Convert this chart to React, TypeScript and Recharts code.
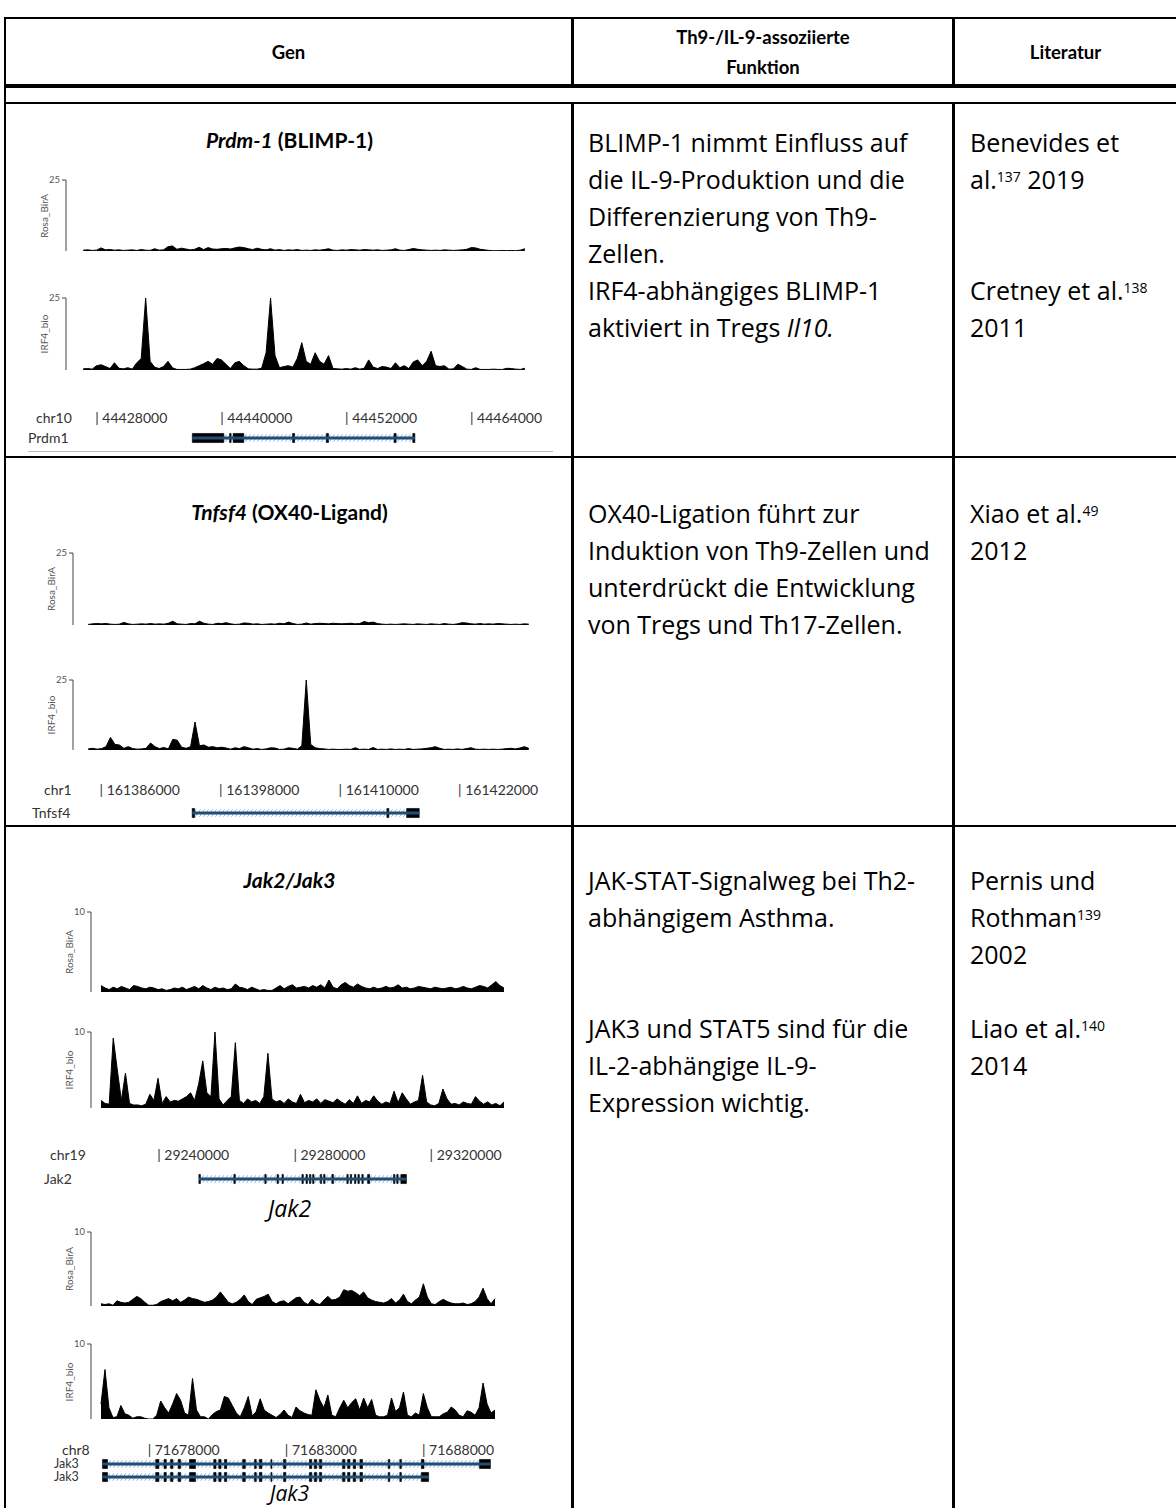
import React from "react";
import {
  AreaChart,
  Area,
  XAxis,
  YAxis,
  ComposedChart,
  Line,
  ReferenceArea,
  ReferenceLine,
} from "recharts";

// ---- data: binned coverage (bins spread evenly over each locus window) ----
const prdm1Rosa = [
  0.3, 0.4, 0.2, 0.3, 1.1, 0.4, 0.5, 0.3, 0.4, 0.2,
  0.3, 0.4, 0.2, 0.5, 0.3, 0.2, 0.8, 0.3, 0.4, 1.5,
  1.8, 0.6, 1, 0.7, 0.4, 0.6, 1.3, 0.5, 1.2, 0.7,
  0.6, 0.8, 0.9, 0.7, 1.1, 1.4, 1.2, 0.8, 0.5, 1,
  0.6, 0.4, 0.8, 0.3, 0.5, 0.2, 0.4, 0.3, 0.5, 0.2,
  0.3, 0.2, 0.4, 0.3, 0.5, 0.8, 0.3, 0.2, 0.4, 0.3,
  0.5, 0.4, 0.3, 0.5, 0.4, 0.3, 0.4, 0.2, 0.3, 0.4,
  0.8, 0.3, 0.2, 0.5, 0.9, 0.6, 0.4, 0.3, 0.2, 0.3,
  0.2, 0.4, 0.3, 0.2, 0.3, 0.4, 0.6, 1.2, 1.1, 0.6,
  0.4, 0.2, 0.1, 0.1, 0.2, 0.1, 0.2, 0.1, 0.3, 0.8,
];
const prdm1Irf4 = [
  0.4, 0.5, 0.3, 1.5, 1.8, 1.2, 0.5, 2.5, 0.6, 0.4,
  0.8, 0.3, 2.5, 4, 25, 3, 1, 0.5, 1.2, 3,
  0.8, 0.2, 0.2, 0.2, 0.3, 0.8, 1.5, 2.2, 3, 2,
  4, 3.5, 2, 0.5, 2.5, 3, 1.5, 0.4, 0.3, 0.3,
  0.6, 6, 25, 5, 0.8, 1.2, 1.5, 1, 4, 9.5,
  3, 2, 6, 3, 2, 5, 0.5, 0.4, 0.3, 0.5,
  0.3, 0.8, 0.3, 0.6, 3.5, 1, 0.5, 1.2, 1, 0.5,
  2.5, 0.8, 1.5, 0.5, 2.8, 3.5, 1.5, 3, 6.5, 1.5,
  1.2, 1.5, 0.3, 0.4, 2, 1.2, 0.3, 0.2, 0.8, 0.2,
  0.2, 0.2, 0.3, 0.2, 0.2, 0.6, 0.5, 0.3, 0.2, 0.6,
];
const tnfsf4Rosa = [
  0.2, 0.4, 0.5, 0.4, 0.5, 0.3, 0.2, 0.3, 0.9, 0.4,
  0.2, 0.3, 0.4, 0.3, 0.5, 0.3, 0.4, 0.3, 0.6, 1.3,
  0.4, 0.3, 0.2, 0.5, 0.4, 1.3, 0.6, 0.3, 0.2, 0.6,
  0.5, 0.8, 0.4, 0.2, 0.3, 0.7, 0.6, 0.3, 0.4, 0.2,
  0.3, 0.4, 0.3, 0.6, 0.4, 1, 0.5, 0.2, 0.3, 0.7,
  0.3, 0.5, 0.6, 0.5, 0.4, 0.6, 0.5, 0.4, 0.5, 0.6,
  0.4, 0.5, 1.2, 0.8, 1, 0.5, 0.3, 0.2, 0.3, 0.2,
  0.3, 0.4, 0.3, 0.2, 0.4, 0.3, 0.2, 0.4, 0.3, 0.2,
  0.5, 0.3, 0.2, 0.4, 0.8, 0.7, 0.4, 0.3, 0.5, 0.3,
  0.4, 0.3, 0.5, 0.4, 0.3, 0.2, 0.3, 0.2, 0.4, 0.3,
];
const tnfsf4Irf4 = [
  0.4, 0.6, 0.3, 0.5, 1.2, 4.5, 2, 1.8, 0.6, 1.2,
  0.5, 0.3, 0.4, 0.6, 2.5, 1.2, 0.5, 0.9, 0.4, 3.8,
  3.5, 1, 0.6, 1.2, 10, 1.5, 1.8, 1, 1.2, 0.8,
  1, 0.7, 0.3, 0.8, 0.5, 1.2, 0.8, 0.3, 0.5, 0.2,
  0.4, 0.8, 0.7, 0.2, 0.3, 0.8, 0.6, 0.3, 1.5, 25,
  2, 0.8, 0.5, 0.4, 0.2, 0.3, 0.2, 0.2, 0.3, 0.2,
  0.8, 0.2, 0.3, 0.2, 0.9, 0.2, 0.3, 0.2, 0.4, 0.2,
  0.3, 0.2, 0.5, 0.2, 0.3, 0.4, 0.6, 0.8, 1.2, 0.6,
  0.2, 0.3, 0.2, 0.4, 0.2, 0.5, 0.8, 0.3, 0.2, 0.3,
  0.2, 0.3, 0.2, 0.3, 0.5, 0.6, 0.4, 0.7, 1.2, 0.6,
];
const jak2Rosa = [
  0.8, 0.5, 0.3, 0.6, 0.4, 0.7, 0.5, 0.3, 0.8, 0.7,
  0.5, 0.4, 0.6, 0.5, 0.3, 0.4, 0.2, 0.3, 0.5, 0.4,
  0.6, 0.3, 0.5, 0.7, 0.4, 0.8, 0.5, 0.3, 0.6, 0.4,
  0.5, 0.3, 0.4, 1, 0.6, 0.5, 0.3, 0.6, 0.4, 0.2,
  0.3, 0.2, 0.2, 0.5, 0.8, 0.4, 0.7, 0.9, 0.5, 0.6,
  0.7, 0.5, 0.8, 0.6, 0.9, 0.5, 1.5, 0.6, 0.4, 0.9,
  1.2, 0.8, 0.6, 1, 0.7, 0.5, 0.4, 0.6, 0.4, 0.5,
  0.7, 0.5, 0.6, 0.9, 0.5, 0.6, 0.4, 0.5, 0.7, 0.6,
  0.5, 0.4, 0.6, 0.5, 0.4, 0.5, 0.6, 0.4, 0.5, 0.7,
  0.5, 0.4, 0.6, 0.8, 0.7, 0.5, 0.9, 1.3, 0.8, 0.5,
];
const jak2Irf4 = [
  1, 0.6, 0.5, 9.2, 5, 1, 4.6, 0.6, 0.4, 0.4,
  0.3, 0.5, 1.8, 1, 3.9, 0.6, 1.5, 0.8, 1, 0.9,
  1.2, 1.5, 2, 1, 3.2, 6.2, 2, 1.5, 10, 1.2,
  0.4, 1, 1.5, 8.6, 1, 0.6, 1.2, 0.8, 1, 0.6,
  1.5, 7.2, 1.2, 0.8, 1, 0.6, 1.2, 0.8, 0.6, 1.8,
  0.7, 1, 0.8, 1.2, 0.6, 1.1, 0.9, 0.7, 1.2, 0.8,
  0.5, 1.1, 0.6, 1.6, 0.6, 1, 0.8, 1.6, 0.9, 0.5,
  0.8, 0.6, 2.2, 0.7, 2, 1.2, 0.5, 0.8, 1, 4.3,
  0.8, 0.4, 0.3, 0.6, 2.5, 1.2, 0.5, 0.6, 0.4, 0.8,
  0.6, 0.5, 1.5, 0.9, 0.5, 0.8, 0.4, 0.6, 0.3, 0.8,
];
const jak3Rosa = [
  0.3, 0.2, 0.3, 0.1, 0.7, 0.5, 0.4, 0.5, 0.9, 1.3,
  1, 0.5, 0.1, 0.1, 0.2, 0.6, 0.8, 1, 0.7, 1,
  0.5, 0.8, 1.2, 1, 0.9, 0.7, 0.5, 0.6, 0.8, 1.2,
  1.9, 1.2, 0.5, 0.3, 0.5, 0.9, 1.5, 0.6, 0.2, 0.9,
  1.1, 1.3, 1.6, 0.6, 0.3, 0.6, 0.7, 0.3, 0.7, 1.1,
  1.2, 0.5, 0.2, 0.9, 0.4, 0.2, 0.8, 1.3, 0.8, 0.9,
  1.2, 2.2, 2, 2.1, 1.8, 1.4, 1.9, 1.1, 0.8, 0.6,
  0.5, 0.4, 0.6, 1, 0.4, 0.8, 1.6, 0.6, 0.3, 0.8,
  1.2, 3, 1.2, 0.3, 0.2, 0.6, 0.9, 0.6, 0.4, 0.3,
  0.3, 0.4, 0.2, 0.3, 0.6, 1.2, 2.4, 1, 0.3, 1,
];
const jak3Irf4 = [
  2, 6.6, 1.5, 0.2, 0.3, 1.8, 0.7, 0.5, 0.1, 0.3,
  0.3, 0.1, 0, 0, 0.5, 2.4, 1.5, 0.8, 2, 3.4,
  2.5, 0.8, 0.5, 5.4, 1.2, 0.3, 0.3, 0, 0.6, 1,
  1.2, 3, 2.8, 1.8, 0.8, 0.3, 1.5, 3, 0.4, 1,
  2.7, 1.2, 0.8, 0.5, 0.2, 0.6, 1.2, 0.5, 0.2, 1.6,
  1.1, 0.8, 0.6, 0.5, 3.9, 2.5, 1.5, 3.2, 0.5, 0.3,
  1.5, 2.5, 1.5, 2.2, 2.7, 1.2, 2.8, 1.5, 2.6, 0.5,
  0.3, 0.3, 0.5, 2.8, 1, 1.5, 3.6, 0.5, 0.3, 0.8,
  0.5, 3.4, 1.5, 0.3, 0.3, 0.3, 0.7, 0.9, 1.6, 1.2,
  0.5, 0.3, 1.1, 0.9, 0.5, 1.5, 4.8, 2, 0.8, 1.2,
];

// ---- loci: windows, tick labels, gene models (bp) ----
const prdm1Window = [44426627, 44469472];
const prdm1Ticks = [44428000, 44440000, 44452000, 44464000];
const prdm1Exons = [
  [44437322, 44440346], [44440900, 44441050], [44441238, 44442266],
  [44446950, 44447150], [44450200, 44450400], [44456700, 44456900],
  [44458500, 44458700],
];

const tnfsf4Window = [161384633, 161429325];
const tnfsf4Ticks = [161386000, 161398000, 161410000, 161422000];
const tnfsf4Exons = [[161395300, 161395550], [161414850, 161415050], [161416833, 161418100]];

const jak2Window = [29222912, 29342437];
const jak2Ticks = [29240000, 29280000, 29320000];
const jak2Exons = [
  [29252250, 29252700], [29262500, 29262950], [29271600, 29272000],
  [29275200, 29275600], [29276650, 29277050], [29282500, 29282900],
  [29283700, 29284100], [29284700, 29285100], [29285650, 29286050],
  [29287900, 29288300], [29288900, 29289300], [29291300, 29291800],
  [29295700, 29296100], [29296700, 29297100], [29297950, 29298350],
  [29298950, 29299350], [29300100, 29300500], [29301800, 29302400],
  [29309400, 29309800], [29310350, 29310750], [29311550, 29313190],
];

const jak3Window = [71676226, 71690735];
const jak3Ticks = [71678000, 71683000, 71688000];
const jak3Shared = [
  [71676354, 71676536], [71678292, 71678412], [71678595, 71678679],
  [71678836, 71678920], [71679113, 71679201], [71679526, 71679745],
  [71680409, 71680493], [71680592, 71680675], [71680796, 71680884],
  [71681464, 71681559], [71681898, 71681960], [71682070, 71682165],
  [71682493, 71682530], [71682953, 71683037], [71683898, 71683982],
  [71684077, 71684161], [71684260, 71684344], [71685107, 71685190],
  [71685289, 71685373], [71685493, 71685581], [71685738, 71685833],
  [71686767, 71686826], [71687191, 71687249],
];
const jak3Tx1 = [...jak3Shared, [71687975, 71688074], [71690096, 71690494]];
const jak3Tx2 = [...jak3Shared, [71687975, 71688242]];

const SMALL = "Lato, 'Open Sans', sans-serif";
const BODY = "'Open Sans', Lato, sans-serif";
const HEAD = "Lato, 'Open Sans', sans-serif";

function Track({ values, win, max, name, left, axisX, dataL, dataR, yTop, yZero }) {
  const step = (win[1] - win[0]) / values.length;
  const data = values.map((v, i) => ({ pos: win[0] + (i + 0.5) * step, v }));
  const mt = 6;
  const mb = 2;
  return (
    <>
      <div style={{ position: "absolute", left, top: yTop - mt }}>
        <AreaChart
          width={dataR - left}
          height={yZero - yTop + mt + mb}
          data={data}
          margin={{ top: mt, right: 0, bottom: mb, left: 0 }}
        >
          <XAxis
            type="number"
            dataKey="pos"
            domain={win}
            hide
            allowDataOverflow
            padding={{ left: dataL - axisX, right: 0 }}
          />
          <YAxis
            width={axisX - left}
            domain={[0, max]}
            ticks={[0, max]}
            allowDataOverflow
            tickSize={4}
            tickMargin={2}
            tick={{ fontSize: 9.5, fill: "#555", fontFamily: SMALL }}
            axisLine={{ stroke: "#444" }}
            tickLine={{ stroke: "#444" }}
          />
          <Area
            type="linear"
            dataKey="v"
            stroke="#000"
            strokeWidth={1}
            fill="#000"
            fillOpacity={1}
            baseValue={0}
            isAnimationActive={false}
          />
        </AreaChart>
      </div>
      <div
        style={{
          position: "absolute",
          left: axisX - 22,
          top: (yTop + yZero) / 2,
          transform: "translate(-50%, -50%) rotate(-90deg)",
          fontSize: 10,
          color: "#555",
          fontFamily: SMALL,
          whiteSpace: "nowrap",
        }}
      >
        {name}
      </div>
    </>
  );
}

function Gene({ txs, win, ticks, left, dataL, dataR, tickY, geneY, rowH = 13 }) {
  const top = tickY - 10;
  const axisH = geneY - rowH / 2 - top;
  const rows = txs.length;
  const extra = 80;
  const frame = [{ pos: win[0], y: 0 }, { pos: win[1], y: 0 }];
  return (
    <div style={{ position: "absolute", left, top }}>
      <ComposedChart
        width={dataR - left + extra}
        height={axisH + rows * rowH + 2}
        data={frame}
        margin={{ top: 0, right: extra, bottom: 2, left: dataL - left }}
      >
        <defs>
          <pattern id="hatch" width="4" height="6" patternUnits="userSpaceOnUse">
            <path d="M0,6 L4,0" stroke="#8fb4dc" strokeWidth="1" />
          </pattern>
        </defs>
        <XAxis
          type="number"
          dataKey="pos"
          domain={win}
          allowDataOverflow
          orientation="top"
          height={axisH}
          ticks={ticks}
          interval={0}
          axisLine={false}
          tickLine={false}
          tick={(p) => (
            <text
              x={p.x}
              y={15}
              textAnchor="start"
              fontSize={14}
              fill="#333"
              fontFamily={SMALL}
            >
              {"| " + p.payload.value}
            </text>
          )}
        />
        <YAxis type="number" hide reversed domain={[0, rows]} allowDataOverflow />
        <Line dataKey="y" stroke="none" dot={false} isAnimationActive={false} />
        {txs.map((ex, r) => {
          const s = ex[0][0];
          const e = ex[ex.length - 1][1];
          return (
            <React.Fragment key={r}>
              <ReferenceArea
                x1={s}
                x2={e}
                y1={r + 0.22}
                y2={r + 0.78}
                fill="url(#hatch)"
                fillOpacity={1}
                stroke="none"
              />
              <ReferenceLine
                segment={[{ x: s, y: r + 0.5 }, { x: e, y: r + 0.5 }]}
                stroke="#1f4e79"
                strokeWidth={3}
              />
              {ex.map(([a, b], k) => (
                <ReferenceArea
                  key={k}
                  x1={a}
                  x2={b}
                  y1={r + 0.15}
                  y2={r + 0.85}
                  fill="#000"
                  fillOpacity={1}
                  stroke="#000"
                  strokeWidth={0.6}
                />
              ))}
            </React.Fragment>
          );
        })}
      </ComposedChart>
    </div>
  );
}

const abs = (left, top, extra = {}) => ({ position: "absolute", left, top, ...extra });

function SmallLabel({ x, y, size = 14, children }) {
  return (
    <div style={abs(x, y - 7, { fontSize: size, color: "#333", fontFamily: SMALL, lineHeight: "14px", whiteSpace: "nowrap" })}>
      {children}
    </div>
  );
}

function Title({ y, children, size = 21 }) {
  return (
    <div
      style={abs(6, y - 16, {
        width: 567,
        textAlign: "center",
        fontSize: size,
        fontWeight: 700,
        fontFamily: HEAD,
        lineHeight: "32px",
      })}
    >
      {children}
    </div>
  );
}

function Lines({ x, y, lines }) {
  return (
    <div style={abs(x, y - 18.5, { fontSize: 25, fontFamily: BODY, lineHeight: "37px", whiteSpace: "nowrap", color: "#000" })}>
      {lines.map((l, i) => (
        <div key={i} style={{ height: 37 }}>{l}</div>
      ))}
    </div>
  );
}

const sup = (t) => <sup style={{ fontSize: 14, verticalAlign: "top", position: "relative", top: -3 }}>{t}</sup>;

function Rule({ x, y, w, h, c = "#000" }) {
  return <div style={abs(x, y, { width: w, height: h, background: c })} />;
}

export default function App() {
  return (
    <div style={abs(0, 0, { width: 1176, height: 1508, background: "#fff", overflow: "hidden" })}>
      {/* table rules */}
      <Rule x={4} y={17} w={1172} h={2} />
      <Rule x={4} y={17} w={2} h={1491} />
      <Rule x={4} y={84} w={1172} h={4} />
      <Rule x={4} y={102} w={1172} h={2} />
      <Rule x={4} y={456} w={1172} h={2} />
      <Rule x={4} y={825} w={1172} h={2} />
      <Rule x={571} y={17} w={3} h={69} />
      <Rule x={952} y={17} w={3} h={69} />
      <Rule x={571} y={102} w={3} h={1406} />
      <Rule x={952} y={102} w={3} h={1406} />

      {/* header */}
      <div style={abs(6, 37, { width: 565, textAlign: "center", fontWeight: 700, fontSize: 18.5, fontFamily: HEAD, lineHeight: "30px" })}>Gen</div>
      <div style={abs(574, 22, { width: 378, textAlign: "center", fontWeight: 700, fontSize: 18.5, fontFamily: HEAD, lineHeight: "30px" })}>
        Th9-/IL-9-assoziierte
        <br />
        Funktion
      </div>
      <div style={abs(955, 37, { width: 221, textAlign: "center", fontWeight: 700, fontSize: 18.5, fontFamily: HEAD, lineHeight: "30px" })}>Literatur</div>

      {/* row 1: Prdm-1 */}
      <Title y={140}>
        <i>Prdm-1</i> (BLIMP-1)
      </Title>
      <Track values={prdm1Rosa} win={prdm1Window} max={25} name="Rosa_BirA" left={20} axisX={66} dataL={81} dataR={527} yTop={180} yZero={251} />
      <Track values={prdm1Irf4} win={prdm1Window} max={25} name="IRF4_bio" left={20} axisX={66} dataL={81} dataR={527} yTop={298} yZero={370} />
      <SmallLabel x={36} y={418}>chr10</SmallLabel>
      <SmallLabel x={28} y={438}>Prdm1</SmallLabel>
      <Gene txs={[prdm1Exons]} win={prdm1Window} ticks={prdm1Ticks} left={20} dataL={81} dataR={527} tickY={418} geneY={438} />
      <Rule x={28} y={451} w={525} h={1} c="#bbb" />
      <Lines
        x={588}
        y={142}
        lines={[
          "BLIMP-1 nimmt Einfluss auf",
          "die IL-9-Produktion und die",
          "Differenzierung von Th9-",
          "Zellen.",
          "IRF4-abhängiges BLIMP-1",
          <>aktiviert in Tregs <i>Il10.</i></>,
        ]}
      />
      <Lines
        x={970}
        y={142}
        lines={["Benevides et", <>al.{sup("137")} 2019</>, "", "", <>Cretney et al.{sup("138")}</>, "2011"]}
      />

      {/* row 2: Tnfsf4 */}
      <Title y={512}>
        <i>Tnfsf4</i> (OX40-Ligand)
      </Title>
      <Track values={tnfsf4Rosa} win={tnfsf4Window} max={25} name="Rosa_BirA" left={20} axisX={73} dataL={86} dataR={531} yTop={553} yZero={625} />
      <Track values={tnfsf4Irf4} win={tnfsf4Window} max={25} name="IRF4_bio" left={20} axisX={73} dataL={86} dataR={531} yTop={680} yZero={750} />
      <SmallLabel x={44} y={790}>chr1</SmallLabel>
      <SmallLabel x={32} y={813}>Tnfsf4</SmallLabel>
      <Gene txs={[tnfsf4Exons]} win={tnfsf4Window} ticks={tnfsf4Ticks} left={20} dataL={86} dataR={531} tickY={790} geneY={813} />
      <Lines
        x={588}
        y={513}
        lines={[
          "OX40-Ligation führt zur",
          "Induktion von Th9-Zellen und",
          "unterdrückt die Entwicklung",
          "von Tregs und Th17-Zellen.",
        ]}
      />
      <Lines x={970} y={513} lines={[<>Xiao et al.{sup("49")}</>, "2012"]} />

      {/* row 3: Jak2 / Jak3 */}
      <Title y={880}>
        <i>Jak2/Jak3</i>
      </Title>
      <Track values={jak2Rosa} win={jak2Window} max={10} name="Rosa_BirA" left={40} axisX={91} dataL={99} dataR={506} yTop={912} yZero={992} />
      <Track values={jak2Irf4} win={jak2Window} max={10} name="IRF4_bio" left={40} axisX={91} dataL={99} dataR={506} yTop={1032} yZero={1108} />
      <SmallLabel x={50} y={1155}>chr19</SmallLabel>
      <SmallLabel x={44} y={1179}>Jak2</SmallLabel>
      <Gene txs={[jak2Exons]} win={jak2Window} ticks={jak2Ticks} left={40} dataL={99} dataR={506} tickY={1155} geneY={1179} />
      <div style={abs(6, 1194, { width: 567, textAlign: "center", fontSize: 23, fontStyle: "italic", fontFamily: BODY, lineHeight: "28px" })}>Jak2</div>

      <Track values={jak3Rosa} win={jak3Window} max={10} name="Rosa_BirA" left={40} axisX={91} dataL={99} dataR={497} yTop={1232} yZero={1306} />
      <Track values={jak3Irf4} win={jak3Window} max={10} name="IRF4_bio" left={40} axisX={91} dataL={99} dataR={497} yTop={1344} yZero={1419} />
      <SmallLabel x={62} y={1450}>chr8</SmallLabel>
      <SmallLabel x={54} y={1464} size={12.5}>Jak3</SmallLabel>
      <SmallLabel x={54} y={1477} size={12.5}>Jak3</SmallLabel>
      <Gene txs={[jak3Tx1, jak3Tx2]} win={jak3Window} ticks={jak3Ticks} left={40} dataL={99} dataR={497} tickY={1450} geneY={1464} rowH={13} />
      <div style={abs(6, 1483, { width: 567, textAlign: "center", fontSize: 21, fontStyle: "italic", fontFamily: BODY, lineHeight: "21px" })}>Jak3</div>

      <Lines
        x={588}
        y={880}
        lines={[
          "JAK-STAT-Signalweg bei Th2-",
          "abhängigem Asthma.",
          "",
          "",
          "JAK3 und STAT5 sind für die",
          "IL-2-abhängige IL-9-",
          "Expression wichtig.",
        ]}
      />
      <Lines
        x={970}
        y={880}
        lines={["Pernis und", <>Rothman{sup("139")}</>, "2002", "", <>Liao et al.{sup("140")}</>, "2014"]}
      />
    </div>
  );
}
